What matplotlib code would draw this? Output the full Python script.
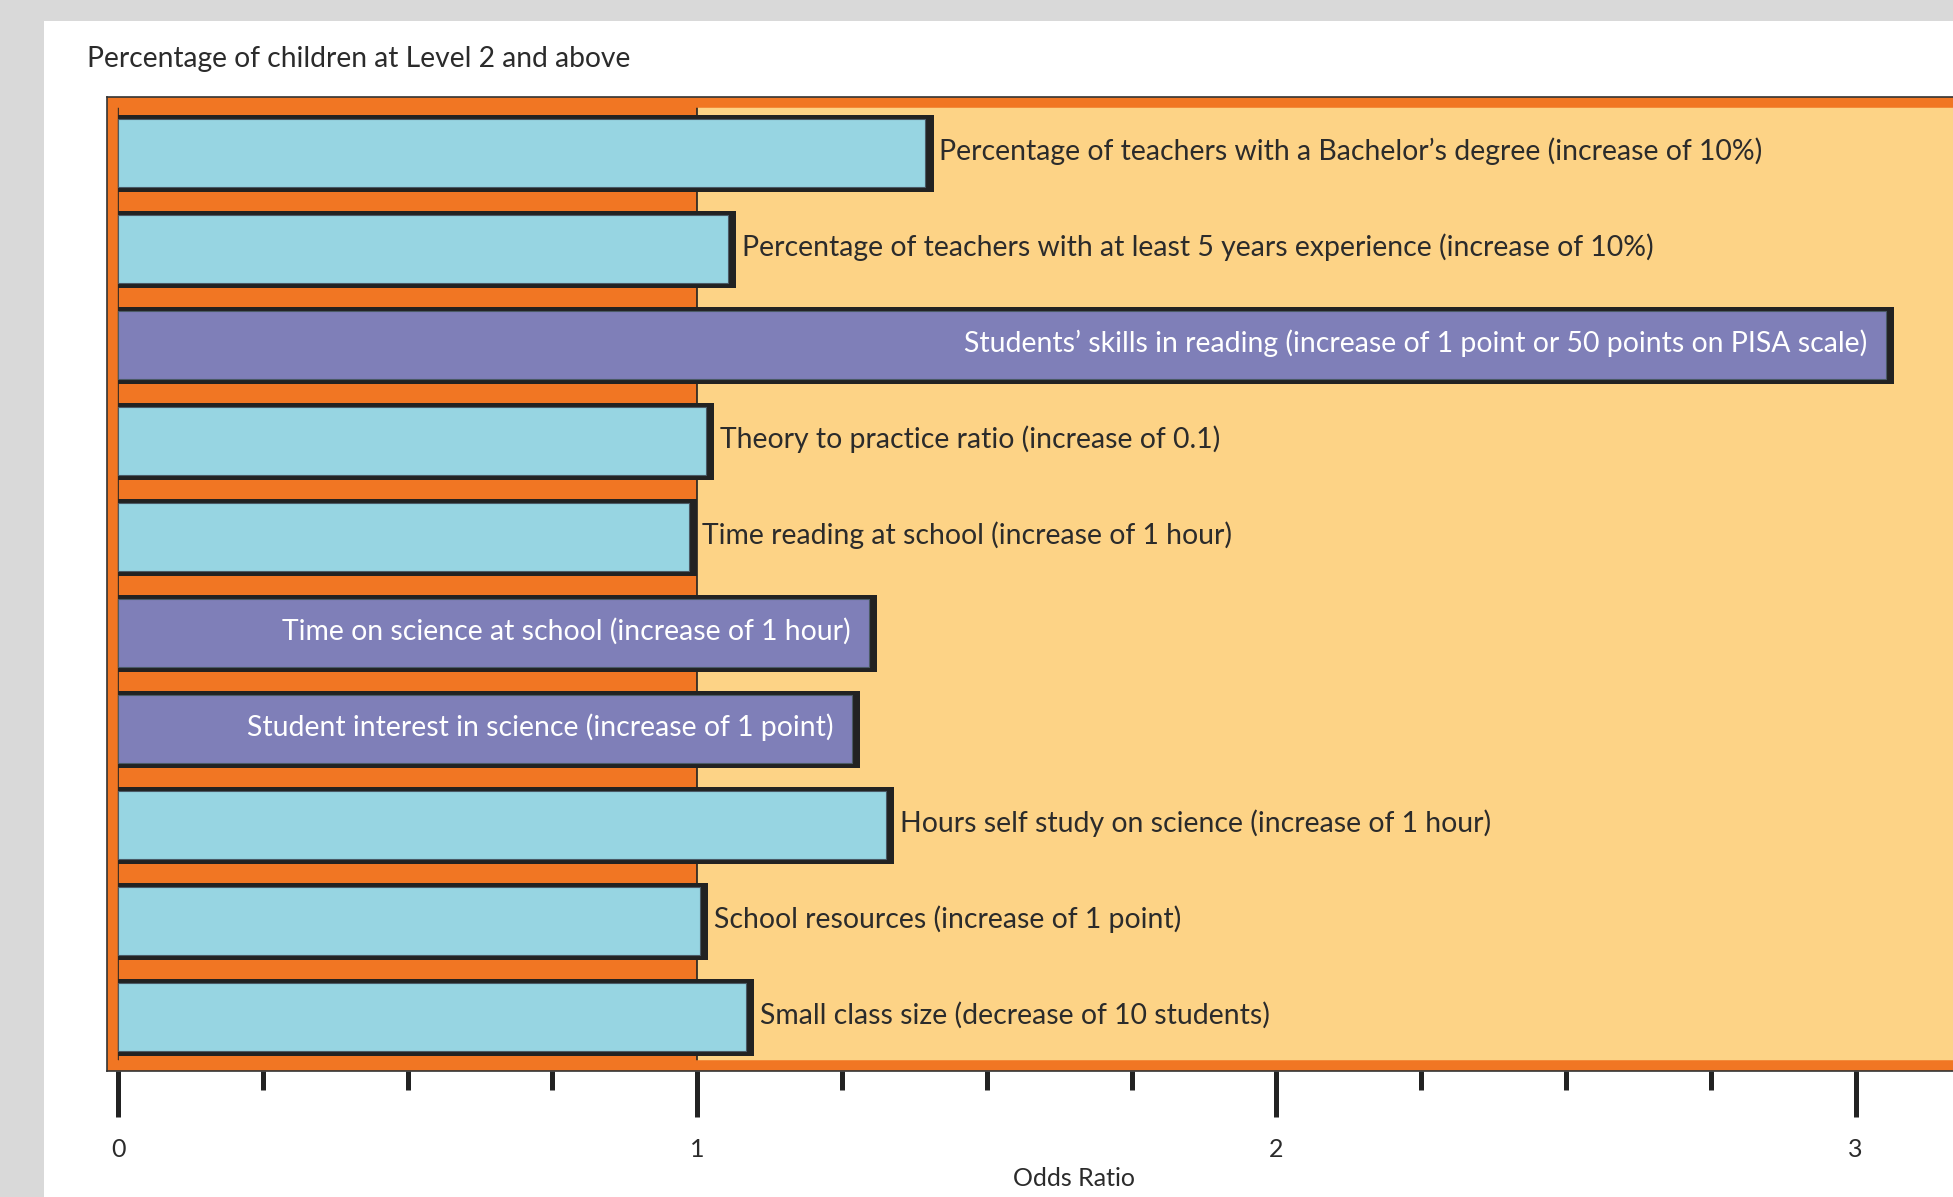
import matplotlib
matplotlib.use('Agg')
import matplotlib.pyplot as plt
from matplotlib.patches import Rectangle
from matplotlib.ticker import MultipleLocator, FixedLocator

# odds ratios, top row first
labels = [
    'Percentage of teachers with a Bachelor\u2019s degree (increase of 10%)',
    'Percentage of teachers with at least 5 years experience (increase of 10%)',
    'Students\u2019 skills in reading (increase of 1 point or 50 points on PISA scale)',
    'Theory to practice ratio (increase of 0.1)',
    'Time reading at school (increase of 1 hour)',
    'Time on science at school (increase of 1 hour)',
    'Student interest in science (increase of 1 point)',
    'Hours self study on science (increase of 1 hour)',
    'School resources (increase of 1 point)',
    'Small class size (decrease of 10 students)',
]
odds = [1.394, 1.053, 3.052, 1.015, 0.985, 1.296, 1.267, 1.326, 1.005, 1.084]
highlight = [False, False, True, False, False, True, True, False, False, False]
major_ticks = [0, 1, 2, 3]
title = 'Percentage of children at Level 2 and above'
xlabel = 'Odds Ratio'

BLUE = '#97d5e2'
PURPLE = '#7f7fb8'
ORANGE = '#f17623'
PALE = '#fdd386'
DARK = '#222222'
GREY = '#d9d9d9'
TXT = '#2b2b2b'

plt.rcParams['font.family'] = ['Lato', 'DejaVu Sans']

W, H = 1953, 1197
fig = plt.figure(figsize=(W / 100, H / 100), dpi=100, facecolor=GREY)
fig.patches.append(Rectangle((44 / W, 0), 1, (H - 21) / H, transform=fig.transFigure,
                             facecolor='white', edgecolor='none', zorder=-1))

ax = fig.add_axes([107 / W, (H - 1071) / H, (2041 - 107) / W, (1071 - 97) / H])
ax.set_facecolor(PALE)
ax.set_xlim(-0.019, 3.32)
ax.set_ylim(9.5625, -0.583)

# orange band up to odds ratio 1
ax.axvspan(0, 1, facecolor=ORANGE, edgecolor=DARK, linewidth=1.2, zorder=1)

# orange frame inside the box
ax.add_patch(Rectangle((0, 0), 1, 1, transform=ax.transAxes, fill=False,
                       edgecolor=ORANGE, linewidth=15.5, zorder=1.5, clip_on=True))
for side in ['left', 'top', 'bottom']:
    ax.spines[side].set_color('#333333')
    ax.spines[side].set_linewidth(1.2)
    ax.spines[side].set_zorder(2)
ax.spines['right'].set_visible(False)

rows = list(range(len(odds)))
bar_h = 0.708
# drop shadows, then the bars on top
ax.barh([r + 0.003 for r in rows], [v + 0.014 for v in odds], height=bar_h + 0.09,
        left=0, color=DARK, edgecolor='none', zorder=3)
ax.barh(rows, odds, height=bar_h, left=0,
        color=[PURPLE if h else BLUE for h in highlight],
        edgecolor='#4a5a66', linewidth=0.8, zorder=4)

for r, (lab, v, h) in enumerate(zip(labels, odds, highlight)):
    if h:
        ax.annotate(lab, (v, r), xytext=(-13, 1), textcoords='offset points',
                    ha='right', va='center', color='white', fontsize=20.4, zorder=5)
    else:
        ax.annotate(lab, (v, r), xytext=(10, 1), textcoords='offset points',
                    ha='left', va='center', color=TXT, fontsize=20.4, zorder=5)

ax.set_yticks([])
ax.xaxis.set_major_locator(FixedLocator(major_ticks))
ax.xaxis.set_minor_locator(MultipleLocator(0.25))
ax.tick_params(axis='x', which='major', direction='out', length=33, width=3.6,
               color=DARK, labelsize=18, labelcolor=TXT, pad=15)
ax.tick_params(axis='x', which='minor', direction='out', length=13.7, width=3.6,
               color=DARK)
ax.set_xlabel(xlabel, fontsize=18, color=TXT)
ax.xaxis.set_label_coords(0.5, -0.11)
ax.xaxis.label.set_verticalalignment('center')

fig.text(87 / W, (H - 59.5) / H, title, ha='left', va='center', fontsize=20.3, color=TXT)

fig.savefig('out.png', dpi=100, facecolor=GREY)
